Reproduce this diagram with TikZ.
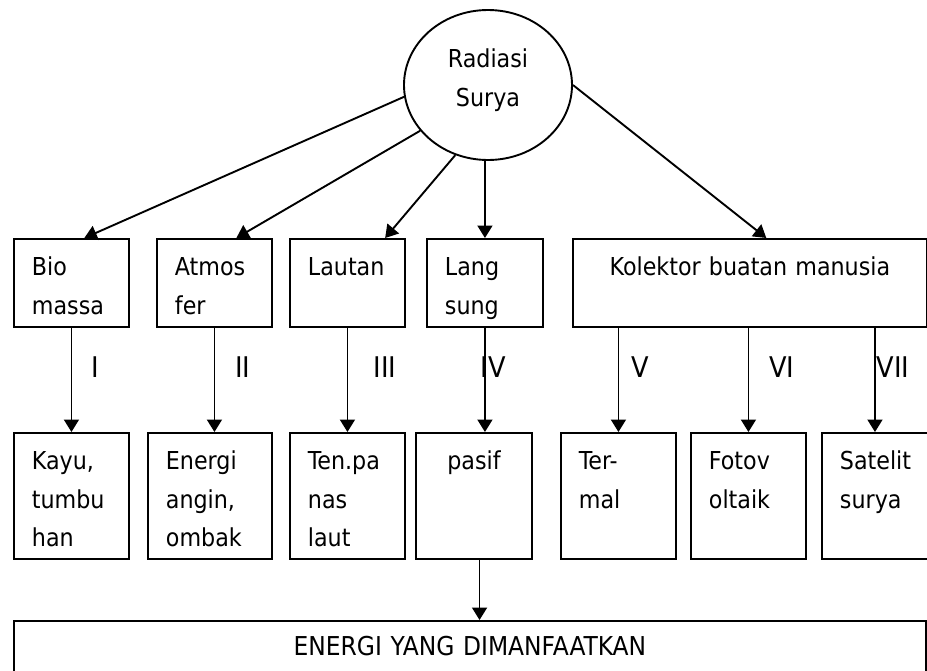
\documentclass[tikz,border=0pt]{standalone}
\usepackage{fontspec}
\setmainfont{DejaVu Sans Condensed}
\usetikzlibrary{arrows.meta,shapes.geometric}
\hyphenpenalty=10000

\tikzset{
  box/.style={draw, line width=1.9pt, anchor=north west, inner ysep=0pt, inner xsep=18pt,
    align=left, text height=37pt, font=\fontsize{24.7}{38.5}\selectfont},
  toprow/.style={box, text depth=51pt},
  lowrow/.style={box, text depth=89pt},
  arr/.style={line width=1.9pt, -{Triangle[length=12.5pt,width=15pt]}},
  num/.style={anchor=base, font=\fontsize{28.5}{30}\selectfont}
}

\begin{document}
\begin{tikzpicture}[x=1pt, y=-1pt]
  \useasboundingbox (0,0) rectangle (927,670);

  % Source
  \node[draw, ellipse, line width=1.9pt, minimum width=168pt, minimum height=150pt,
        align=center, text width=100pt, text height=20pt, text depth=56pt,
        font=\fontsize{24.7}{39}\selectfont] (rad) at (488,85) {Radiasi\\Surya};

  % Top row
  \node[toprow, text width=79pt] (bio) at (13,238) {Bio\\massa};
  \node[toprow, text width=79pt] (atmos) at (156,238) {Atmos\\fer};
  \node[toprow, text width=79pt] (lautan) at (289,238) {Lautan};
  \node[toprow, text width=80pt] (lang) at (426,238) {Lang\\sung};
  \node[toprow, text width=318pt, align=center] (kol) at (572,238) {Kolektor buatan manusia};

  % Bottom row
  \node[lowrow, text width=79pt] (kayu) at (13,432) {Kayu,\\tumbu\\han};
  \node[lowrow, text width=88pt] (energi) at (147,432) {Energi\\angin,\\ombak};
  \node[lowrow, text width=79pt] (tenpanas) at (289,432) {Ten.pa\\nas\\laut};
  \node[lowrow, text width=80pt, align=center] (pasif) at (415,432) {pasif};
  \node[lowrow, text width=79pt] (termal) at (560,432) {Ter-\\mal};
  \node[lowrow, text width=79pt] (fotov) at (690,432) {Fotov\\oltaik};
  \node[lowrow, text width=79pt] (satelit) at (821,432) {Satelit\\surya};

  % Result
  \node[box, text width=876pt, align=center, text height=35pt, text depth=45pt,
        font=\fontsize{26}{30}\selectfont] (ener) at (13,620) {ENERGI YANG DIMANFAATKAN};

  % Arrows from the sun
  \draw[arr] (rad.188) -- (bio.74);
  \draw[arr] (rad.214) -- (atmos.64);
  \draw[arr] (rad.245) -- (lautan.50);
  \draw[arr] (lang.north |- rad.south) -- (lang.north);
  \draw[arr] (rad.east) -- (kol.70);

  % Conversion paths
  \draw[arr] (bio.south) -- (kayu.north);
  \draw[arr] (atmos.south) -- (atmos.south |- energi.north);
  \draw[arr] (lautan.south) -- (tenpanas.north);
  \draw[arr] (lang.south) -- (lang.south |- pasif.north);
  \draw[arr] (termal.north |- kol.south) -- (termal.north);
  \draw[arr] (fotov.north |- kol.south) -- (fotov.north);
  \draw[arr] (satelit.94 |- kol.south) -- (satelit.94);
  \draw[arr] (pasif.-85) -- (pasif.-85 |- ener.north);

  % Path numbers
  \foreach \x/\lab/\nm in {95/I/nI, 243/II/nII, 385/III/nIII, 493/IV/nIV,
                          640/V/nV, 782/VI/nVI, 893/VII/nVII}
    \node[num] (\nm) at (\x,377) {\lab};
\end{tikzpicture}
\end{document}
